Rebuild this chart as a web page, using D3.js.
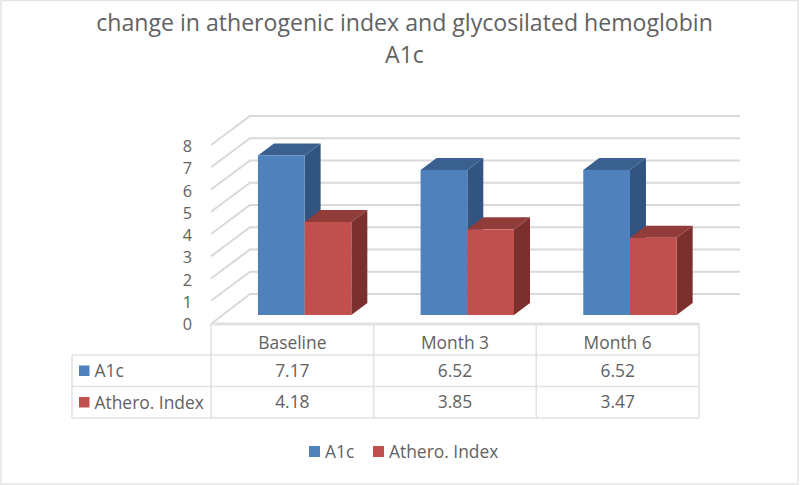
<!DOCTYPE html>
<html>
<head>
<meta charset="utf-8">
<script src="https://cdn.jsdelivr.net/npm/d3@7"></script>
<style>
  html, body { margin: 0; padding: 0; background: #fff; }
  text { font-family: "Open Sans", "Noto Sans", sans-serif; fill: #626262; }
</style>
</head>
<body>
<svg id="chart" width="800" height="485" style="display:block"></svg>
<script>
const categories = ["Baseline", "Month 3", "Month 6"];
const seriesNames = ["A1c", "Athero. Index"];
const a1c = [7.17, 6.52, 6.52];
const athero = [4.18, 3.85, 3.47];
const yTicks = [0, 1, 2, 3, 4, 5, 6, 7, 8];
const titleLines = ["change in atherogenic index and glycosilated hemoglobin", "A1c"];

const frontColors = ["#4f81bd", "#c0504d"];
const topColors = ["#3a6090", "#923c3a"];
const sideColors = ["#325480", "#7c302e"];
const gridColor = "#d9d9d9";
const depthX = 16, depthY = -12; // bar depth

const svg = d3.select("#chart");

// chart frame
svg.append("rect").attr("x", 1).attr("y", 0.5).attr("width", 797).attr("height", 483.5)
    .attr("fill", "none").attr("stroke", "#e4e4e4").attr("stroke-width", 1.5);

svg.selectAll(".title")
    .data(titleLines)
    .enter()
    .append("text")
    .attr("class", "title")
    .attr("x", 404.5)
    .attr("y", (d, i) => 31 + i * 32)
    .attr("text-anchor", "middle")
    .style("font-size", "23.1px")
    .text(d => d);

// y scale for the front of the bars, the walls are offset from it
const y = d3.scaleLinear().domain([0, 8]).range([315, 137]);
const x = d3.scaleBand().domain(categories).range([211, 699]);

const wallDx = 39, wallDy = -21, frontDy = 8;
const wallRight = 740;

// gridlines on side wall and back wall
const grid = svg.append("g");
yTicks.forEach(t => {
    const yf = y(t) + frontDy + (t === 0 ? 1 : 0);
    const yb = y(t) + wallDy;
    grid.append("path")
        .attr("d", `M211,${yf}L${211 + wallDx},${yb}L${wallRight},${yb}`)
        .attr("fill", "none")
        .attr("stroke", gridColor)
        .attr("stroke-width", 2);
});

// y axis labels
svg.selectAll(".ytick")
    .data(yTicks)
    .enter()
    .append("text")
    .attr("class", "ytick")
    .attr("x", 192)
    .attr("y", d => y(d) + frontDy + 7)
    .attr("text-anchor", "end")
    .style("font-size", "16.3px")
    .text(d => d);

// one 3d bar: side, top, front
function bar(g, px, w, value, s) {
    const top = y(value), base = y(0);
    g.append("path")
        .attr("d", `M${px + w},${base}L${px + w + depthX},${base + depthY}L${px + w + depthX},${top + depthY}L${px + w},${top}Z`)
        .attr("fill", sideColors[s]);
    g.append("path")
        .attr("d", `M${px},${top}L${px + depthX},${top + depthY}L${px + w + depthX},${top + depthY}L${px + w},${top}Z`)
        .attr("fill", topColors[s]);
    g.append("rect")
        .attr("x", px).attr("y", top).attr("width", w).attr("height", base - top)
        .attr("fill", frontColors[s]);
}

const barW = 46.7;
const bars = svg.append("g");
categories.forEach((c, i) => {
    const start = x(c) + (x.bandwidth() - 2 * barW) / 2 + 12.3;
    bar(bars, start, barW, a1c[i], 0);
    bar(bars, start + barW, barW, athero[i], 1);
});

// data table below the plot
const tableLeft = 72;
const rowY = [324, 355, 386.5, 418];
const table = svg.append("g");
const lineStyle = sel => sel.attr("stroke", "#e2e2e2").attr("stroke-width", 1.6).attr("fill", "none");

rowY.forEach((ry, i) => {
    table.append("line")
        .attr("x1", i === 0 ? 211 : tableLeft).attr("x2", 699)
        .attr("y1", ry).attr("y2", ry)
        .call(lineStyle)
        .attr("stroke-width", i === 0 ? 3 : 1.6);
});
[tableLeft].concat(x.domain().map(c => x(c)), [699]).forEach((cx, i) => {
    table.append("line")
        .attr("x1", cx).attr("x2", cx)
        .attr("y1", i === 0 ? rowY[1] : rowY[0]).attr("y2", rowY[3])
        .call(lineStyle);
});

const cellFont = "17.4px";
categories.forEach((c, i) => {
    const cx = x(c) + x.bandwidth() / 2;
    table.append("text").attr("x", cx).attr("y", 349).attr("text-anchor", "middle")
        .style("font-size", cellFont).text(c);
    table.append("text").attr("x", cx).attr("y", 377).attr("text-anchor", "middle")
        .style("font-size", cellFont).text(a1c[i].toFixed(2));
    table.append("text").attr("x", cx).attr("y", 408).attr("text-anchor", "middle")
        .style("font-size", cellFont).text(athero[i].toFixed(2));
});

seriesNames.forEach((n, i) => {
    const ry = rowY[i + 1];
    table.append("rect").attr("x", 79).attr("y", ry + 10.5).attr("width", 10.5).attr("height", 10.5)
        .attr("fill", frontColors[i]);
    table.append("text").attr("x", 94.5).attr("y", ry + 22)
        .style("font-size", cellFont).text(n);
});

// legend
const legendX = [309, 373];
seriesNames.forEach((n, i) => {
    svg.append("rect").attr("x", legendX[i]).attr("y", 446).attr("width", 11).attr("height", 11)
        .attr("fill", frontColors[i]);
    svg.append("text").attr("x", legendX[i] + 16).attr("y", 457.5)
        .style("font-size", cellFont).text(n);
});
</script>
</body>
</html>
